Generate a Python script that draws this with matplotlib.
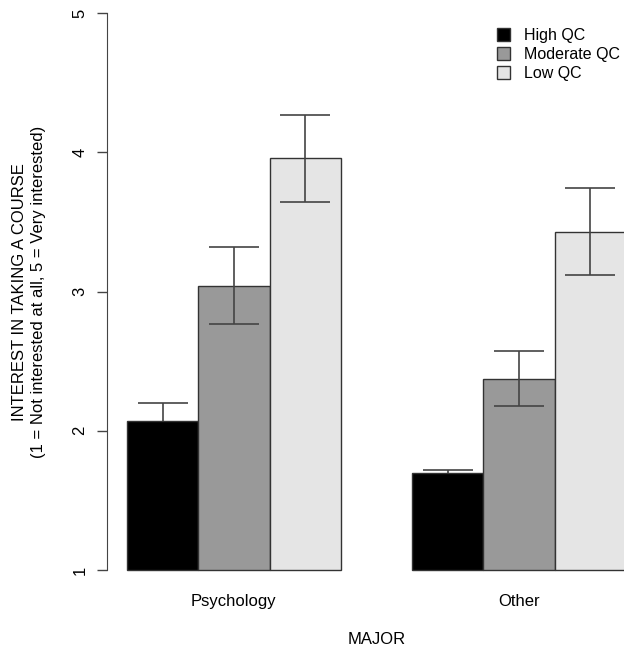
import numpy as np
import matplotlib.pyplot as plt

plt.rcParams['font.family'] = ['Liberation Sans', 'DejaVu Sans']

majors = ['Psychology', 'Other']
levels = ['High QC', 'Moderate QC', 'Low QC']
colors = ['#000000', '#999999', '#e5e5e5']

# means and error bar ends (lower, upper) per level, order: Psychology, Other
means = {
    'High QC': [2.07, 1.70],
    'Moderate QC': [3.04, 2.37],
    'Low QC': [3.96, 3.43],
}
err_low = {
    'High QC': [1.94, 1.68],
    'Moderate QC': [2.77, 2.18],
    'Low QC': [3.64, 3.12],
}
err_high = {
    'High QC': [2.20, 1.72],
    'Moderate QC': [3.32, 2.57],
    'Low QC': [4.27, 3.74],
}

W, H = 624, 649
fig = plt.figure(figsize=(W / 100, H / 100), dpi=100)

# plot region in pixels (R style, right part cut off by the image edge)
x0, x1 = 0.72, 8.28
px_left, px_unit = 107, 71.3
y0, y1 = 0.84, 5.16
py_one, py_unit = 570, 139.25
left = px_left / W
width = (x1 - x0) * px_unit / W
bottom = (H - (py_one + (1 - y0) * py_unit)) / H
height = (y1 - y0) * py_unit / H
ax = fig.add_axes([left, bottom, width, height])

fs = 12
group_start = [1, 5]
for i, lev in enumerate(levels):
    xs = np.array(group_start) + i + 0.5
    m = np.array(means[lev])
    ax.bar(xs, m - 1, bottom=1, width=1, color=colors[i],
           edgecolor='#333333', linewidth=1, label=lev, zorder=2)
    lo = np.array(err_low[lev])
    hi = np.array(err_high[lev])
    # black bars hide the lower half of their error bars
    z = 1 if i == 0 else 3
    ax.errorbar(xs, m, yerr=[m - lo, hi - m], fmt='none', ecolor='#444444',
                elinewidth=1.2, capsize=18, capthick=1.2, zorder=z)

ax.set_xlim(x0, x1)
ax.set_ylim(y0, y1)
for s in ['top', 'right', 'bottom']:
    ax.spines[s].set_visible(False)
ax.spines['left'].set_bounds(1, 5)
ax.spines['left'].set_color('#444444')
ax.set_yticks([1, 2, 3, 4, 5])
ax.set_yticklabels(['1', '2', '3', '4', '5'], rotation=90, va='center', fontsize=fs)
ax.tick_params(axis='y', length=7, width=1, color='#444444', pad=7)
ax.set_xticks([2.5, 6.5])
ax.set_xticklabels(majors, fontsize=fs)
ax.tick_params(axis='x', length=0, pad=1)
ax.set_xlabel('MAJOR', fontsize=fs, labelpad=17)

fig.text(20 / W, 1 - 292 / H, 'INTEREST IN TAKING A COURSE', rotation=90,
         ha='center', va='center', fontsize=fs)
fig.text(39 / W, 1 - 292 / H, '(1 = Not interested at all, 5 = Very interested)',
         rotation=90, ha='center', va='center', fontsize=fs)

ax.legend(loc='upper left', bbox_to_anchor=(489 / W, 1 - 20 / H),
          bbox_transform=fig.transFigure, frameon=False, fontsize=11.5,
          handlelength=0.8, handleheight=0.8, handletextpad=0.9,
          labelspacing=0.25, borderpad=0)

fig.savefig('out.png', dpi=100)
